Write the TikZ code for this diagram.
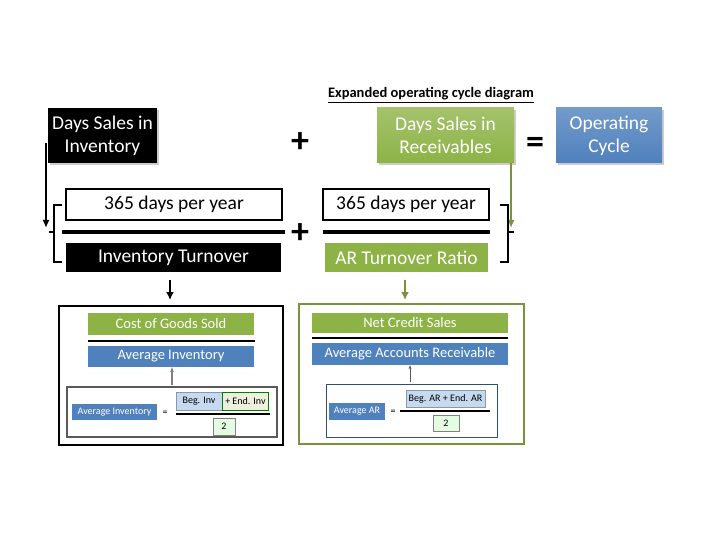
\documentclass[tikz,border=0pt]{standalone}
\usepackage{fontspec}
\setmainfont{Carlito}
\usetikzlibrary{shadows,arrows.meta}
\definecolor{gr}{HTML}{8DB346}
\definecolor{bl}{HTML}{4F81BD}
\definecolor{lbl}{HTML}{C6D9F1}
\definecolor{lgr}{HTML}{EBF1DE}
\definecolor{ol}{HTML}{77933C}
\tikzset{
 px/.style={x=1pt,y=-1pt},
 bigbox/.style={draw=none,inner sep=0pt,align=center,font=\fontsize{19.5}{23}\selectfont,drop shadow={opacity=0.4,shadow xshift=2pt,shadow yshift=-2pt}},
 wbox/.style={draw=black,line width=1.2pt,fill=white,inner sep=0pt,font=\fontsize{19.5}{23}\selectfont},
 bar/.style={inner sep=0pt,text=white,font=\fontsize{14.5}{17}\selectfont},
 sm/.style={inner sep=0pt,font=\fontsize{10}{12}\selectfont},
 op/.style={font=\fontsize{36}{36}\selectfont\bfseries,inner sep=0pt},
}
\begin{document}
\begin{tikzpicture}[px]
\useasboundingbox (0,0) rectangle (720,540);
\node[font=\fontsize{14.5}{16}\selectfont\bfseries,inner sep=0pt] (title) at (431,95) {\underline{Expanded operating cycle diagram}};
\node[bigbox,fill=black,text=white,minimum width=109pt,minimum height=55pt] (dsi) at (102.5,135.5) {Days Sales in\\Inventory};
\node[bigbox,top color=gr!80,bottom color=gr,text=white,minimum width=137pt,minimum height=55pt] (dsr) at (445.5,135.5) {Days Sales in\\Receivables};
\node[bigbox,top color=bl!80,bottom color=bl,text=white,minimum width=106pt,minimum height=55pt] (oc) at (609,135.5) {Operating\\Cycle};
\node[op] (p1) at (300,143) {+};
\node[op] (eq) at (535,145) {=};
\node[op] (p2) at (300,234) {+};
\node[wbox,minimum width=216pt,minimum height=31pt] (n1) at (174,204.5) {365 days per year};
\node[wbox,minimum width=166pt,minimum height=31pt] (n2) at (406,204.5) {365 days per year};
\node[bar,fill=black,minimum width=215pt,minimum height=29pt,font=\fontsize{19.5}{23}\selectfont] (it) at (173.5,257.5) {Inventory Turnover};
\node[bar,fill=gr,minimum width=163pt,minimum height=29pt,font=\fontsize{19.5}{23}\selectfont] (ar) at (406.5,257.5) {AR Turnover Ratio};
\draw[line width=4pt] (62,232) -- (285,232);
\draw[line width=4pt] (323,232) -- (490,232);
\coordinate (la) at (46,228);
\draw[line width=2pt,-{Latex[length=8pt,width=7pt]}] (46,143) -- (la);
\draw[line width=1.5pt] (62,205) -- (54,205) -- (54,262) -- (62,262) (54,232) -- (49,232);
\coordinate (ra) at (511,228);
\draw[ol,line width=2pt,-{Latex[length=8pt,width=7pt]}] (dsr.south -| ra) -- (ra);
\draw[line width=1.5pt] (500,205) -- (508,205) -- (508,262) -- (500,262) (508,232) -- (514,232);
\coordinate (d1) at (170,300); \coordinate (d2) at (405,300);
\draw[line width=2pt,-{Latex[length=8pt,width=8pt]}] (170,280) -- (d1);
\draw[ol,line width=2pt,-{Latex[length=8pt,width=8pt]}] (405,280) -- (d2);
% left panel
\draw[line width=2pt] (59,306) rectangle (283,445);
\node[bar,fill=gr,minimum width=166pt,minimum height=22pt] (cogs) at (171,324) {Cost of Goods Sold};
\draw[line width=2.5pt] (88,341) -- (255,341);
\node[bar,fill=bl,minimum width=166pt,minimum height=21pt] (ai) at (171,356.5) {Average Inventory};
\draw[gray!70!black,line width=1.2pt] (67,387) rectangle (277,437);
\draw[gray,line width=1.5pt,-{Stealth[length=5pt]}] (172,385) -- (ai.south -| 172,0);
\node[sm,fill=bl,text=white,minimum width=85pt,minimum height=16pt] (ai2) at (114.5,412) {Average Inventory};
\node[sm] (eq1) at (165,413) {=};
\node[sm,fill=lbl,draw=lbl!70!black,minimum width=46pt,minimum height=18pt] (beg) at (199,401) {Beg. Inv};
\node[sm,fill=lgr,draw=green!50!black,minimum width=46pt,minimum height=18pt,anchor=west] (end) at (beg.east) {+ End. Inv};
\draw[line width=2pt] (176,414) -- (270,414);
\node[sm,fill=lgr!70!green!30,draw=gray,minimum width=22pt,minimum height=17pt] (two1) at (224,426.5) {2};
% right panel
\draw[ol,line width=2pt] (299,304) rectangle (524,444);
\node[bar,fill=gr,minimum width=196pt,minimum height=20pt] (ncs) at (410,323) {Net Credit Sales};
\draw[line width=2.5pt] (312,338) -- (508,338);
\node[bar,fill=bl,minimum width=196pt,minimum height=22pt] (aar) at (410,354) {Average Accounts Receivable};
\draw[bl!60!black,line width=1pt] (326,384) rectangle (497,437);
\draw[gray!70!black,line width=1pt,-{Stealth[length=4pt]}] (410,382) -- (aar.south -| 410,0);
\node[sm,fill=bl,text=white,minimum width=56pt,minimum height=17pt] (aar2) at (357,411.5) {Average AR};
\node[sm] (eq2) at (393,412) {=};
\node[sm,fill=lbl,draw=lbl!70!black,minimum width=79pt,minimum height=17pt] (beg2) at (445.5,398.5) {Beg. AR + End. AR};
\draw[line width=2pt] (400,411) -- (490,411);
\node[sm,fill=lgr!70!green!30,draw=gray,minimum width=26pt,minimum height=16pt] (two2) at (446,423) {2};
\end{tikzpicture}
\end{document}
